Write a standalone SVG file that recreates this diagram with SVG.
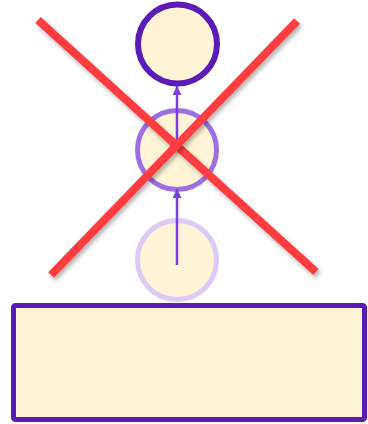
<svg xmlns="http://www.w3.org/2000/svg" width="368" height="424" viewBox="0 0 368 424">
<defs>
<style>
.node{fill:#fff4d6}
.c1{stroke:#5b1cb5;stroke-width:6}
.c2{stroke:#9c70e3;stroke-width:5}
.c3{stroke:#dcc9f5;stroke-width:5}
.box{stroke:#5b1cb5;stroke-width:5}
.arrow{stroke:#7b3fe0;stroke-width:2.5;fill:none;marker-end:url(#ah)}
.cross{stroke:#ff3c40;stroke-width:8;stroke-linecap:butt;filter:url(#sh)}
</style>
<marker id="ah" viewBox="0 0 10 10" refX="10" refY="5" markerWidth="9" markerHeight="9" markerUnits="userSpaceOnUse" orient="auto"><path d="M0,0 L10,5 L0,10 z" fill="#7b3fe0"/></marker>
<filter id="sh" x="-20%" y="-20%" width="140%" height="140%"><feDropShadow dx="2" dy="3" stdDeviation="2" flood-color="#000" flood-opacity="0.3"/></filter>
</defs>
<g id="box"><rect class="node box" x="13.5" y="305.5" width="351" height="114" rx="2"/></g>
<g id="n3"><circle class="node c3" cx="177" cy="260" r="39.5"/></g>
<g id="n2"><circle class="node c2" cx="177" cy="150" r="39.5"/></g>
<g id="n1"><circle class="node c1" cx="177.5" cy="44" r="39.5"/></g>
<g id="connectors">
<line class="arrow" x1="177" y1="265" x2="177" y2="189"/>
<line class="arrow" x1="177" y1="150" x2="177" y2="86"/>
</g>
<g id="cross">
<line class="cross" x1="38" y1="20" x2="316" y2="272"/>
<line class="cross" x1="297" y1="21" x2="51" y2="275"/>
</g>
</svg>
